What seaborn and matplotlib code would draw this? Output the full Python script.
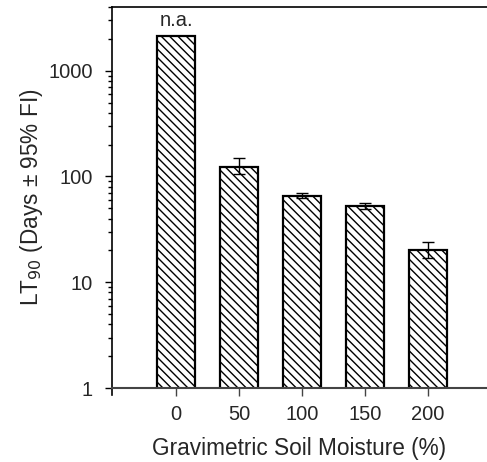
import numpy as np
import pandas as pd
import matplotlib
matplotlib.use("Agg")
import matplotlib.pyplot as plt
import matplotlib.ticker as mticker
import seaborn as sns

# ---- data ----
moisture = ["0", "50", "100", "150", "200"]
lt90 = [2150, 124, 66, 52, 20.3]
ci_low = [np.nan, 106, 62.4, 49, 17]
ci_high = [np.nan, 150, 70, 55.9, 23.8]
ytick_vals = [1, 10, 100, 1000]
ytick_labels = ["1", "10", "100", "1000"]

sns.set_style("ticks")
plt.rcParams["font.family"] = ["Liberation Sans", "DejaVu Sans"]
plt.rcParams["hatch.linewidth"] = 1.0

df = pd.DataFrame({"moisture": moisture, "lt90": lt90})

fig = plt.figure(figsize=(4.87, 4.62), dpi=100)
ax = fig.add_axes([112 / 487, 1 - 388 / 462, 1 - 112 / 487, (388 - 7) / 462])

sns.barplot(data=df, x="moisture", y="lt90", order=moisture, color="white",
            edgecolor="black", linewidth=1.6, width=0.6, errorbar=None, ax=ax,
            log_scale=(False, True))
for p in ax.patches:
    p.set_hatch("\\\\\\\\")
    p.set_facecolor("white")

xs = np.arange(len(moisture))
vals = np.array(lt90, dtype=float)
lo = np.array(ci_low, dtype=float)
hi = np.array(ci_high, dtype=float)
mask = ~np.isnan(lo)
ax.errorbar(xs[mask], vals[mask], yerr=[vals[mask] - lo[mask], hi[mask] - vals[mask]],
            fmt="none", ecolor="black", elinewidth=1.0, capsize=4.3, capthick=1.0, zorder=5)

ax.text(0, lt90[0] * 1.12, "n.a.", ha="center", va="bottom", fontsize=14.5)

ax.set_yscale("log")
ax.set_ylim(1, 4000)
ax.set_xlim(-1.016, 4.937)
ax.yaxis.set_major_locator(mticker.FixedLocator(ytick_vals))
ax.yaxis.set_major_formatter(mticker.FixedFormatter(ytick_labels))
ax.yaxis.set_minor_locator(mticker.LogLocator(base=10, subs=np.arange(2, 10)))
ax.yaxis.set_minor_formatter(mticker.NullFormatter())

ax.tick_params(axis="y", which="major", direction="out", length=5, width=1.0,
               labelsize=14.5, pad=9, color="black")
ax.tick_params(axis="y", which="minor", direction="out", length=3, width=1.0, color="black")
ax.tick_params(axis="x", which="major", direction="out", length=5.5, width=1.0,
               labelsize=14.5, pad=7, color="#444444")

ax.set_xlabel("Gravimetric Soil Moisture (%)", fontsize=16.3, labelpad=9)
ax.set_ylabel(r"LT$_{90}$ (Days ± 95% FI)", fontsize=16.3, labelpad=2)

for side in ["top", "left"]:
    ax.spines[side].set_color("black")
    ax.spines[side].set_linewidth(1.2)
ax.spines["bottom"].set_color("#444444")
ax.spines["bottom"].set_linewidth(1.5)
ax.spines["right"].set_visible(False)
ax.spines["left"].set_bounds(0.86, 4000)

fig.savefig("out.png", dpi=100)
